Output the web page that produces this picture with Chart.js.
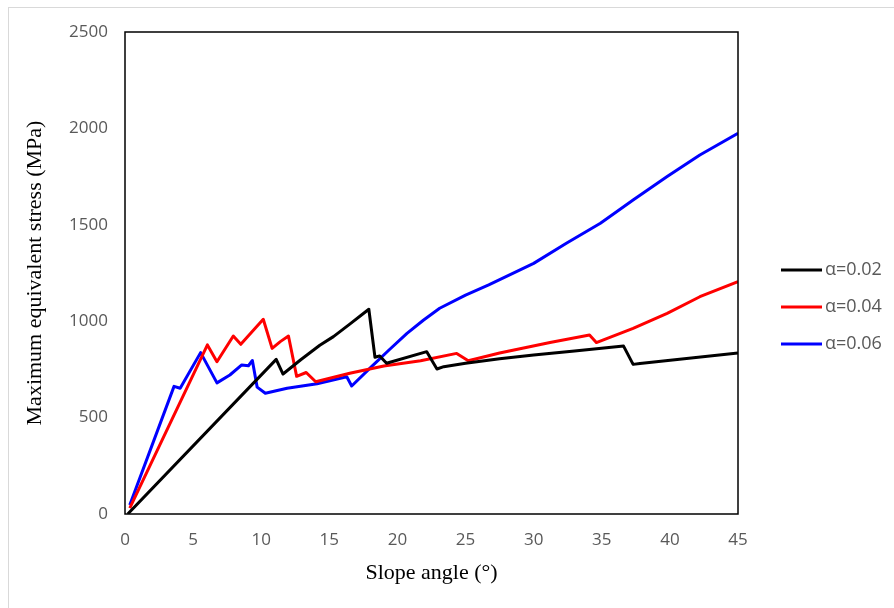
<!DOCTYPE html>
<html lang="en">
<head>
    <meta charset="UTF-8">
    <title>Maximum equivalent stress vs slope angle</title>
    <script src="https://cdn.jsdelivr.net/npm/chart.js"></script>
    <style>
        body { margin: 0; background: #fff; }
        #wrap { position: relative; width: 894px; height: 608px; }
        #frame { position: absolute; left: 8px; top: 7px; width: 890px; height: 605px; border: 1px solid #d9d9d9; }
        canvas { position: absolute; left: 0; top: 0; }
    </style>
</head>
<body>
    <div id="wrap">
        <div id="frame"></div>
        <canvas id="stressChart" width="894" height="608"></canvas>
    </div>

    <script>
        // values
        const seriesLabels = ["α=0.02", "α=0.04", "α=0.06"];
        const seriesColors = ["#000000", "#ff0000", "#0000ff"];

        const angle002 = [0.2, 11.1, 11.6, 12.9, 14.3, 15.3, 16.5, 17.5, 17.9, 18.35, 18.7, 19.2, 22.15, 22.9, 23.4, 25, 27.5, 30, 33, 36.6, 37.3, 37.8, 45];
        const stress002 = [0, 802, 726, 800, 875, 920, 985, 1040, 1062, 813, 820, 782, 842, 752, 764, 782, 805, 825, 845, 871, 776, 781, 835];

        const angle004 = [0.35, 6.05, 6.75, 7.95, 8.5, 10.15, 10.8, 11.4, 12.0, 12.6, 13.3, 14.0, 16.5, 19, 21.7, 24.35, 25.2, 27.5, 31.2, 34.1, 34.6, 37.3, 39.8, 42.2, 45];
        const stress004 = [30, 877, 790, 923, 880, 1010, 859, 894, 923, 714, 734, 686, 730, 768, 795, 833, 795, 835, 890, 928, 889, 963, 1041, 1127, 1205];

        const angle006 = [0.35, 3.6, 4.05, 5.55, 6.75, 7.7, 8.57, 9.06, 9.35, 9.7, 10.3, 11.9, 14.1, 16.28, 16.64, 18.1, 19.4, 20.7, 21.9, 23.1, 25, 26.7, 30, 32.4, 34.9, 37.3, 39.8, 42.2, 45];
        const stress006 = [47, 662, 652, 837, 680, 721, 773, 769, 796, 658, 626, 652, 676, 712, 664, 764, 852, 937, 1005, 1067, 1135, 1188, 1300, 1404, 1508, 1629, 1750, 1862, 1975];

        const xTicks = [0, 5, 10, 15, 20, 25, 30, 35, 40, 45];
        const yTicks = [0, 500, 1000, 1500, 2000, 2500];

        function toPoints(xs, ys) {
            return xs.map((x, i) => ({ x: x, y: ys[i] }));
        }

        const allSeries = [toPoints(angle002, stress002), toPoints(angle004, stress004), toPoints(angle006, stress006)];

        // black frame round the plot area
        const framePlugin = {
            id: "frame",
            afterDraw(chart) {
                const a = chart.chartArea, ctx = chart.ctx;
                ctx.save();
                ctx.strokeStyle = "#000";
                ctx.lineWidth = 1.5;
                ctx.strokeRect(a.left, a.top, a.right - a.left, a.bottom - a.top);
                ctx.restore();
            }
        };

        // legend at the right, like the original
        const sideLegend = {
            id: "sideLegend",
            afterDraw(chart) {
                const ctx = chart.ctx;
                const x0 = chart.chartArea.right + 43;
                ctx.save();
                ctx.font = "18px 'Open Sans'";
                ctx.textBaseline = "middle";
                chart.data.datasets.forEach((ds, i) => {
                    const y = 270 + i * 37;
                    ctx.strokeStyle = ds.borderColor;
                    ctx.lineWidth = 3;
                    ctx.beginPath();
                    ctx.moveTo(x0, y);
                    ctx.lineTo(x0 + 41, y);
                    ctx.stroke();
                    ctx.fillStyle = "#595959";
                    ctx.fillText(ds.label, x0 + 44, y);
                });
                ctx.restore();
            }
        };

        let ctx = document.getElementById("stressChart").getContext("2d");
        new Chart(ctx, {
            type: "scatter",
            data: {
                datasets: allSeries.map((pts, i) => ({
                    label: seriesLabels[i],
                    data: pts,
                    showLine: true,
                    borderColor: seriesColors[i],
                    backgroundColor: seriesColors[i],
                    borderWidth: 3,
                    borderJoinStyle: "round",
                    pointRadius: 0,
                    tension: 0
                }))
            },
            options: {
                responsive: false,
                animation: false,
                layout: { padding: { left: 0, top: 32, right: 156, bottom: 0 } },
                plugins: { legend: { display: false }, tooltip: { enabled: false } },
                scales: {
                    x: {
                        type: "linear",
                        min: 0, max: 45,
                        afterFit: s => { s.height = 94; },
                        afterBuildTicks: s => { s.ticks = xTicks.map(v => ({ value: v })); },
                        grid: { display: false, drawTicks: false },
                        border: { display: false },
                        ticks: { padding: 16, color: "#595959", font: { family: "Open Sans", size: 17 }, callback: v => String(v) },
                        title: {
                            display: true,
                            text: "Slope angle (°)",
                            color: "#000",
                            font: { family: "Liberation Serif", size: 22 },
                            padding: { top: 0, bottom: 22 }
                        }
                    },
                    y: {
                        type: "linear",
                        min: 0, max: 2500,
                        afterFit: s => { s.width = 125; },
                        afterBuildTicks: s => { s.ticks = yTicks.map(v => ({ value: v })); },
                        grid: { display: false, drawTicks: false },
                        border: { display: false },
                        ticks: { padding: 17, color: "#595959", font: { family: "Open Sans", size: 17 }, callback: v => String(v) },
                        title: {
                            display: true,
                            text: "Maximum equivalent stress (MPa)",
                            color: "#000",
                            font: { family: "Liberation Serif", size: 22 },
                            padding: { top: 22, bottom: 0 }
                        }
                    }
                }
            },
            plugins: [framePlugin, sideLegend]
        });
    </script>
</body>
</html>
